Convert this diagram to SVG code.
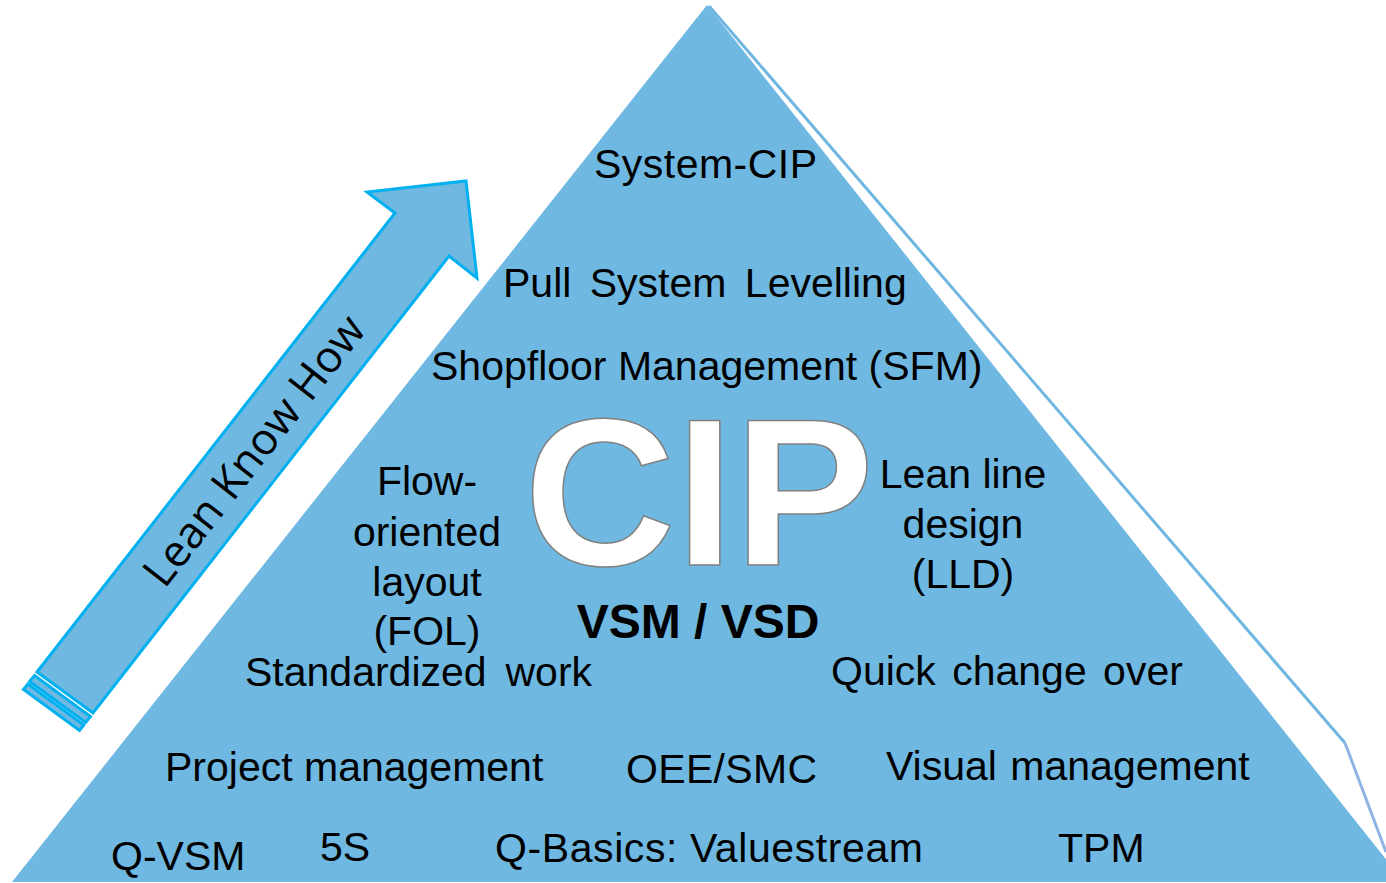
<svg xmlns="http://www.w3.org/2000/svg" width="1386" height="883" viewBox="0 0 1386 883">
<style>
.lbl{font-family:"Liberation Sans",Arial,sans-serif;font-size:41px;fill:#000}
.mid{text-anchor:middle}
.arrow{fill:#6fb8e1;stroke:#00b0f0;stroke-width:3;stroke-linejoin:miter}
</style>
<rect x="0" y="0" width="1386" height="883" fill="#ffffff"/>
<g id="pyramid">
<polygon points="707,5 12,882 1404,882" fill="#6fb8e1"/>
</g>
<g id="connectors" fill="none" stroke-width="3">
<polyline points="709,6 1345,743" stroke="#6fb6e0"/>
<polyline points="1345,743 1386,852" stroke="#8fb4e3"/>
</g>
<g id="arrow">
<polygon class="arrow" points="37,672 395,213 367,192 466,181 477,278 449,256 93,713"/>
<polygon class="arrow" points="34.5,675.5 90.5,716.5 85.6,722.5 29.6,681.5" stroke-width="2.5"/>
<polygon class="arrow" points="27.8,684 83.8,725 79.5,730.5 23.5,689.5" stroke-width="2.5"/>
<text transform="translate(266,460) rotate(-52)" text-anchor="middle" font-family="'Open Sans',sans-serif" font-size="44" fill="#000">Lean Know How</text>
</g>
<g id="cip">
<text x="699" y="565" text-anchor="middle" font-family="'Liberation Sans',Arial,sans-serif" font-weight="bold" font-size="210" fill="#ffffff" stroke="#808080" stroke-width="1.5">CIP</text>
</g>
<g id="vsm">
<text x="698" y="638" text-anchor="middle" font-family="'Liberation Sans',Arial,sans-serif" font-weight="bold" font-size="48" fill="#000">VSM / VSD</text>
</g>
<g id="system-cip"><text class="lbl" x="594" y="178" textLength="223">System-CIP</text></g>
<g id="pull"><text class="lbl" x="503" y="297" word-spacing="7">Pull System Levelling</text></g>
<g id="sfm"><text class="lbl" x="431" y="380">Shopfloor Management (SFM)</text></g>
<g id="fol">
<text class="lbl mid" x="427" y="495">Flow-</text>
<text class="lbl mid" x="427" y="546">oriented</text>
<text class="lbl mid" x="427" y="596">layout</text>
<text class="lbl mid" x="427" y="645">(FOL)</text>
</g>
<g id="lld">
<text class="lbl mid" x="963" y="488">Lean line</text>
<text class="lbl mid" x="963" y="538">design</text>
<text class="lbl mid" x="963" y="588">(LLD)</text>
</g>
<g id="std-work"><text class="lbl" x="245" y="686" word-spacing="7.5">Standardized work</text></g>
<g id="qco"><text class="lbl" x="831" y="685" word-spacing="5">Quick change over</text></g>
<g id="pm"><text class="lbl" x="165" y="781">Project management</text></g>
<g id="oee"><text class="lbl" x="626" y="783" textLength="191">OEE/SMC</text></g>
<g id="vm"><text class="lbl" x="886" y="780" word-spacing="2">Visual management</text></g>
<g id="qvsm"><text class="lbl" x="111" y="870">Q-VSM</text></g>
<g id="fives"><text class="lbl" x="320" y="861">5S</text></g>
<g id="qbasics"><text class="lbl" x="495" y="862" textLength="428">Q-Basics: Valuestream</text></g>
<g id="tpm"><text class="lbl" x="1058" y="862">TPM</text></g>
</svg>
